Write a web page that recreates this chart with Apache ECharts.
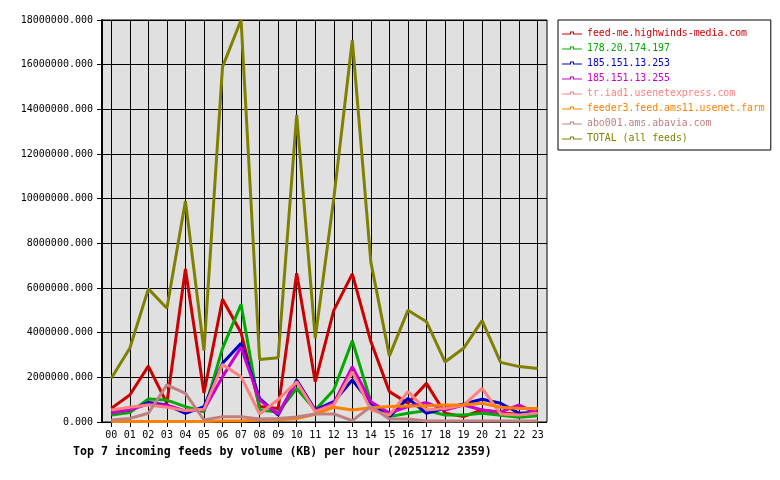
<!DOCTYPE html>
<html>
<head>
<meta charset="utf-8">
<script src="https://cdn.jsdelivr.net/npm/echarts@6/dist/echarts.min.js"></script>
<style>
    html, body { margin: 0; padding: 0; background: #fff; }
    #chart { width: 780px; height: 480px; }
</style>
</head>
<body>
<div id="chart"></div>
<script>
    // hours on the x axis
    var hours = ['00','01','02','03','04','05','06','07','08','09','10','11',
                 '12','13','14','15','16','17','18','19','20','21','22','23'];

    // KB per hour
    var highwinds = [610000,1210000,2500000,840000,6850000,1300000,5500000,4000000,690000,600000,6660000,1800000,
                     5000000,6630000,3600000,1360000,840000,1730000,390000,240000,540000,400000,350000,470000];
    var ip197     = [310000,420000,1030000,980000,690000,460000,3300000,5270000,540000,450000,1500000,540000,
                     1430000,3640000,910000,240000,390000,510000,310000,310000,390000,300000,210000,280000];
    var ip253     = [460000,540000,870000,760000,390000,690000,2630000,3520000,1060000,310000,1880000,540000,
                     910000,1880000,840000,240000,1060000,390000,610000,810000,1020000,840000,390000,430000];
    var ip255     = [400000,550000,800000,750000,500000,550000,2030000,3340000,980000,360000,1800000,500000,
                     840000,2480000,910000,400000,690000,870000,540000,760000,540000,450000,760000,360000];
    var usenetexp = [540000,660000,760000,660000,510000,570000,2580000,2030000,360000,1000000,1800000,460000,
                     760000,2250000,540000,310000,1360000,540000,600000,760000,1510000,360000,310000,400000];
    var feeder3   = [20000,20000,20000,20000,20000,20000,50000,50000,100000,100000,150000,350000,
                     660000,540000,640000,690000,720000,730000,760000,760000,840000,660000,600000,600000];
    var abavia    = [90000,160000,390000,1660000,1280000,90000,240000,240000,130000,160000,220000,360000,
                     360000,60000,690000,130000,130000,50000,50000,50000,50000,50000,50000,50000];
    var total     = [1960000,3300000,5960000,5090000,9900000,3200000,15900000,18000000,2800000,2880000,13750000,3750000,
                     10000000,17100000,7160000,2960000,5000000,4490000,2690000,3300000,4540000,2670000,2480000,2400000];

    var names  = ['feed-me.highwinds-media.com','178.20.174.197','185.151.13.253','185.151.13.255',
                  'tr.iad1.usenetexpress.com','feeder3.feed.ams11.usenet.farm','abo001.ams.abavia.com','TOTAL (all feeds)'];
    var colors = ['#cc0000','#00aa00','#0000cc','#cc00cc','#ff8080','#ff8000','#c08080','#808000'];
    var values = [highwinds, ip197, ip253, ip255, usenetexp, feeder3, abavia, total];

    var font = 'DejaVu Sans Mono';
    // little line with a small open box on it, like the legend marks
    var legendIcon = 'path://M0 2H8V3H0Z M8 0H12V1H8Z M8 0H9V3H8Z M11 0H12V3H11Z M12 2H20V3H12Z';

    var myChart = echarts.init(document.getElementById('chart'));

    var series = names.map(function (n, i) {
        return {
            name: n,
            type: 'line',
            xAxisIndex: 1,
            yAxisIndex: 1,
            data: values[i],
            showSymbol: false,
            itemStyle: { color: colors[i] },
            lineStyle: { color: colors[i], width: 3 }
        };
    });

    var option = {
        animation: false,
        title: {
            text: 'Top 7 incoming feeds by volume (KB) per hour (20251212 2359)',
            left: 73,
            top: 446,
            padding: 0,
            textStyle: { fontFamily: font, fontSize: 11.6, fontWeight: 'bold', color: '#000' }
        },
        legend: {
            orient: 'vertical',
            left: 558,
            top: 20,
            padding: [7, 6, 6, 4],
            itemWidth: 20,
            itemHeight: 3,
            itemGap: 3,
            icon: legendIcon,
            borderColor: '#000',
            borderWidth: 1,
            backgroundColor: '#fff',
            textStyle: { fontFamily: font, fontSize: 9.85, lineHeight: 12 },
            data: names.map(function (n, i) {
                return { name: n, textStyle: { color: colors[i] } };
            })
        },
        grid: [
            { left: 102, right: 233, top: 20, bottom: 58, show: true,
              backgroundColor: '#e0e0e0', borderColor: '#000', borderWidth: 1 },
            { left: 111.27, right: 242.27, top: 20, bottom: 58 }
        ],
        xAxis: [
            { gridIndex: 0, type: 'value', min: 0, max: 1, show: false },
            {
                gridIndex: 1,
                type: 'category',
                boundaryGap: false,
                data: hours,
                axisLine: { show: false },
                axisTick: { show: true, length: 5, lineStyle: { color: '#000' } },
                axisLabel: { fontFamily: font, fontSize: 10, color: '#000', margin: 8 },
                splitLine: { show: true, lineStyle: { color: '#000', width: 1 } }
            }
        ],
        yAxis: [
            {
                gridIndex: 0,
                type: 'value',
                min: 0,
                max: 18000000,
                interval: 2000000,
                axisLine: { show: true, lineStyle: { color: '#000', width: 2 } },
                axisTick: { show: true, length: 5, lineStyle: { color: '#000' } },
                axisLabel: {
                    fontFamily: font, fontSize: 10, color: '#000', margin: 9,
                    formatter: function (v) { return v.toFixed(3); }
                },
                splitLine: { show: true, lineStyle: { color: '#000', width: 1 } }
            },
            { gridIndex: 1, type: 'value', min: 0, max: 18000000, show: false }
        ],
        series: series
    };

    myChart.setOption(option);
</script>
</body>
</html>
